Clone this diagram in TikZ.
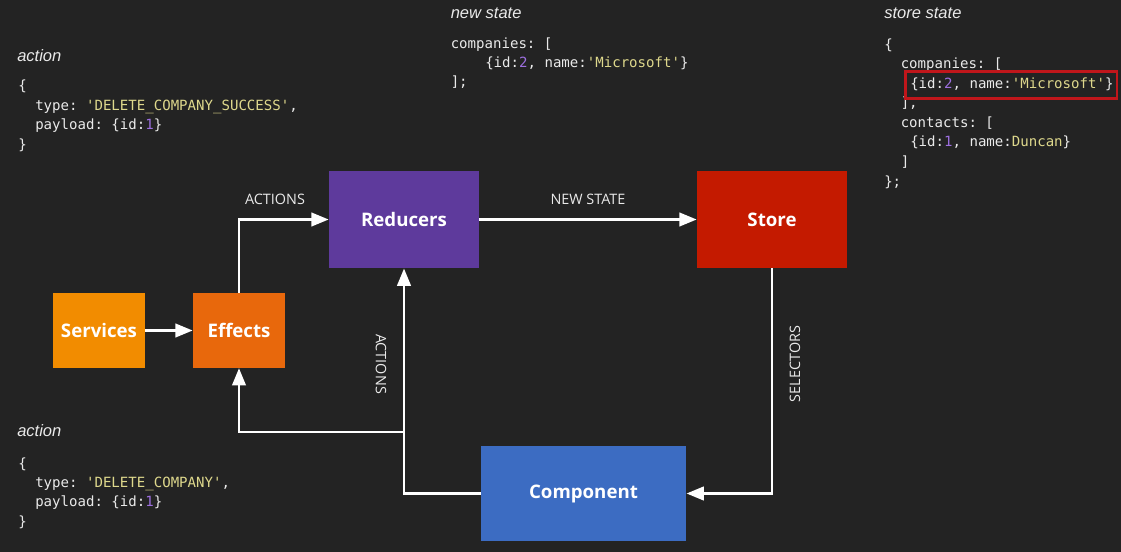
\documentclass[tikz,border=0pt]{standalone}
\usepackage{fontspec}
\usetikzlibrary{arrows.meta}
\setmonofont{DejaVu Sans Mono}
\newfontfamily\labelfont{Open Sans}
\newfontfamily\headfont{Liberation Sans}
\definecolor{bg}{HTML}{232323}
\definecolor{codetxt}{HTML}{EAEAEA}
\definecolor{codestr}{HTML}{DED88C}
\definecolor{codenum}{HTML}{9D6FE0}
\definecolor{cservices}{HTML}{F28C00}
\definecolor{ceffects}{HTML}{E8680C}
\definecolor{creducers}{HTML}{5E3A9C}
\definecolor{cstore}{HTML}{C41A00}
\definecolor{ccomponent}{HTML}{3C6CC2}
\definecolor{cred}{HTML}{C0161B}
\newcommand{\cstr}[1]{\textcolor{codestr}{#1}}
\newcommand{\cnum}[1]{\textcolor{codenum}{#1}}
\begin{document}
\begin{tikzpicture}[x=0.75pt,y=-0.75pt,
  box/.style={fill=#1, draw=none, inner sep=0pt, text=white,
    font=\labelfont\fontsize{14}{16}\selectfont\bfseries},
  code/.style={anchor=base west, inner sep=0pt, text=codetxt,
    font=\ttfamily\fontsize{10.55}{12}\selectfont},
  head/.style={anchor=base west, inner sep=0pt, text=codetxt,
    font=\headfont\itshape\fontsize{12.4}{14}\selectfont},
  lbl/.style={inner sep=0pt, text=codetxt,
    font=\labelfont\fontsize{10.8}{12}\selectfont},
  arr/.style={draw=white, line width=2.2pt,
    -{Triangle[length=13pt,width=10pt]}},
  line/.style={draw=white, line width=2.2pt}
]
\fill[bg] (0,0) rectangle (1121,552);
\useasboundingbox (0,0) rectangle (1121,552);

% boxes
\node[box=cservices, minimum width=69pt, minimum height=56pt] (services) at (99,330.5) {Services};
\node[box=ceffects, minimum width=69pt, minimum height=56pt] (effects) at (239,330.5) {Effects};
\node[box=creducers, minimum width=112.5pt, minimum height=73pt] (reducers) at (404,219.5) {Reducers};
\node[box=cstore, minimum width=112.5pt, minimum height=73pt] (store) at (772,219.5) {Store};
\node[box=ccomponent, minimum width=154pt, minimum height=71pt] (component) at (583.5,493.5) {Component};

% connectors
\draw[arr] (services.east) -- (effects.west);
\draw[arr] (effects.north) |- (reducers.west);
\draw[arr] (reducers.east) -- (store.west);
\draw[arr] (store.south) |- (component.east);
\draw[arr] (component.west) -| (reducers.south);
\coordinate (br) at (404,432);
\draw[arr] (br) -| (effects.south);

% connector labels
\node[lbl] (lactions) at (275,199) {ACTIONS};
\node[lbl] (lnewstate) at (588,199) {NEW STATE};
\node[lbl, rotate=90] (lselectors) at (795,364) {SELECTORS};
\node[lbl, rotate=-90] (lactions2) at (381,364) {ACTIONS};

% top-left action
\node[head] (h1) at (17,62) {action};
\node[code] (a1) at (18,91) {\{};
\node[code] (a2) at (35,110.5) {type: \cstr{'DELETE\_COMPANY\_SUCCESS'},};
\node[code] (a3) at (35,130) {payload: \{id:\cnum{1}\}};
\node[code] (a4) at (18,150) {\}};

% bottom-left action
\node[head] (h2) at (17,436.5) {action};
\node[code] (b1) at (18,468) {\{};
\node[code] (b2) at (35,487.3) {type: \cstr{'DELETE\_COMPANY'},};
\node[code] (b3) at (35,506.7) {payload: \{id:\cnum{1}\}};
\node[code] (b4) at (18,526) {\}};

% new state
\node[head] (h3) at (450.5,18.3) {new state};
\node[code] (n1) at (450.5,49) {companies: [};
\node[code] (n2) at (485,67.7) {\{id:\cnum{2}, name:\cstr{'Microsoft'}\}};
\node[code] (n3) at (450.5,87) {];};

% store state
\node[head] (h4) at (884,18.3) {store state};
\node[code] (s1) at (884,50) {\{};
\node[code] (s2) at (900.5,69) {companies: [};
\node[code] (s3) at (910,88.5) {\{id:\cnum{2}, name:\cstr{'Microsoft'}\}};
\node[code] (s4) at (900.5,108) {],};
\node[code] (s5) at (900.5,128) {contacts: [};
\node[code] (s6) at (910,147) {\{id:\cnum{1}, name:\cstr{Duncan}\}};
\node[code] (s7) at (900.5,167) {]};
\node[code] (s8) at (884,186.5) {\};};
\draw[cred, line width=2.2pt] (905.5,71.5) rectangle (1117,98.5);
\end{tikzpicture}
\end{document}
